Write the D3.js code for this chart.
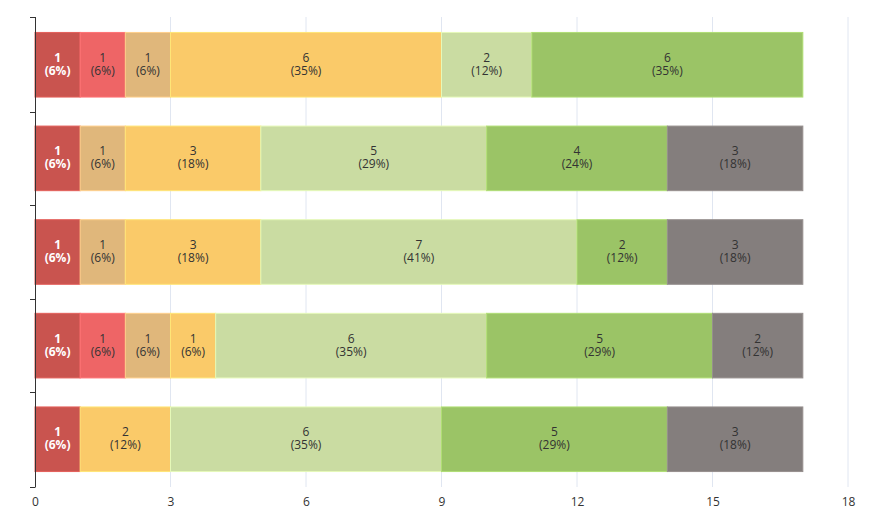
<!DOCTYPE html>
<html>
<head>
<meta charset="utf-8">
<script src="https://cdn.jsdelivr.net/npm/d3@7"></script>
<style>
  body { margin: 0; background: #fff; }
  text { font-family: "Open Sans", "Noto Sans", sans-serif; }
</style>
</head>
<body>
<div class="canvas"></div>
<script>
// data
const rows = ['A', 'B', 'C', 'D', 'E'];
const seriesNames = ['s1', 's2', 's3', 's4', 's5', 's6', 's7'];
const seriesColors = ['#c9544f', '#ee6566', '#e0b77b', '#faca69', '#cadca2', '#9bc466', '#847e7d'];
const s1 = [1, 1, 1, 1, 1];
const s2 = [1, 0, 0, 1, 0];
const s3 = [1, 1, 1, 1, 0];
const s4 = [6, 3, 3, 1, 2];
const s5 = [2, 5, 7, 6, 6];
const s6 = [6, 4, 2, 5, 5];
const s7 = [0, 3, 3, 2, 3];
const xTicks = [0, 3, 6, 9, 12, 15, 18];

const seriesValues = [s1, s2, s3, s4, s5, s6, s7];

// build table for the stack
const table = rows.map((r, i) => {
    const o = {row: r};
    seriesNames.forEach((s, j) => o[s] = seriesValues[j][i]);
    o.total = d3.sum(seriesValues, v => v[i]);
    return o;
});

// dimensions
const width = 871, height = 519;
const margin = {top: 17, right: 23, bottom: 32, left: 35};
const graphWidth = width - margin.left - margin.right;
const graphHeight = height - margin.top - margin.bottom;

const svg = d3.select('.canvas')
    .append('svg')
        .attr('width', width)
        .attr('height', height);

const graph = svg.append('g')
    .attr('transform', `translate(${margin.left}, ${margin.top})`);

// scales
const x = d3.scaleLinear()
    .domain([0, 18])
    .range([0, graphWidth]);

const y = d3.scaleBand()
    .domain(rows)
    .range([0, graphHeight])
    .paddingInner(0.31)
    .paddingOuter(0.165);

// grid lines
graph.append('g')
    .selectAll('line')
    .data(xTicks.slice(1))
    .enter()
    .append('line')
        .attr('x1', d => x(d))
        .attr('x2', d => x(d))
        .attr('y1', 0)
        .attr('y2', graphHeight)
        .attr('stroke', '#e0e6f1')
        .attr('stroke-width', 1);

// stack
const stack = d3.stack().keys(seriesNames);
const stacked = stack(table);

const layers = graph.selectAll('g.layer')
    .data(stacked)
    .enter()
    .append('g')
        .attr('class', 'layer');

layers.each(function(layer, li) {
    const color = seriesColors[li];
    const segs = layer.filter(d => d[1] - d[0] > 0);
    const g = d3.select(this);

    g.selectAll('rect')
        .data(segs)
        .enter()
        .append('rect')
            .attr('x', d => x(d[0]))
            .attr('y', d => y(d.data.row))
            .attr('width', d => x(d[1]) - x(d[0]))
            .attr('height', y.bandwidth())
            .attr('fill', color)
            .attr('stroke', d3.color(color).brighter(0.35))
            .attr('stroke-width', 1);

    const cx = d => (x(d[0]) + x(d[1])) / 2;
    const cy = d => y(d.data.row) + y.bandwidth() / 2;

    // value line
    g.selectAll('text.val')
        .data(segs)
        .enter()
        .append('text')
            .attr('class', 'val')
            .attr('text-anchor', 'middle')
            .attr('font-size', 12)
            .attr('font-weight', li === 0 ? 'bold' : 'normal')
            .attr('fill', li === 0 ? '#fff' : '#333')
            .attr('x', cx)
            .attr('y', d => cy(d) - 3)
            .text(d => d[1] - d[0]);

    // percent line
    g.selectAll('text.pct')
        .data(segs)
        .enter()
        .append('text')
            .attr('class', 'pct')
            .attr('text-anchor', 'middle')
            .attr('font-size', 12)
            .attr('font-weight', li === 0 ? 'bold' : 'normal')
            .attr('fill', li === 0 ? '#fff' : '#333')
            .attr('x', cx)
            .attr('y', d => cy(d) + 10)
            .text(d => '(' + Math.round((d[1] - d[0]) / d.data.total * 100) + '%)');
});

// axes
const yAxis = d3.axisLeft(y).tickSize(0).tickFormat('');
const yAxisGroup = graph.append('g').call(yAxis);
yAxisGroup.select('.domain').attr('stroke', '#333').attr('d', `M0.5,0V${graphHeight}`);

// band boundary ticks
const bounds = [0].concat(rows.map(r => y(r) + y.bandwidth() + y.step() * y.paddingInner() / 2));
bounds[bounds.length - 1] = graphHeight;
yAxisGroup.selectAll('line.bt')
    .data(bounds)
    .enter()
    .append('line')
        .attr('class', 'bt')
        .attr('x1', -5)
        .attr('x2', 0.5)
        .attr('y1', d => Math.round(d) + 0.5)
        .attr('y2', d => Math.round(d) + 0.5)
        .attr('stroke', '#333');

const xAxis = d3.axisBottom(x).tickValues(xTicks).tickSize(0).tickPadding(10);
const xAxisGroup = graph.append('g')
    .attr('transform', `translate(0, ${graphHeight})`)
    .call(xAxis);
xAxisGroup.select('.domain').remove();
xAxisGroup.selectAll('text')
    .attr('font-size', 12)
    .attr('fill', '#333')
    .style('font-family', '"Open Sans", sans-serif');
</script>
</body>
</html>
